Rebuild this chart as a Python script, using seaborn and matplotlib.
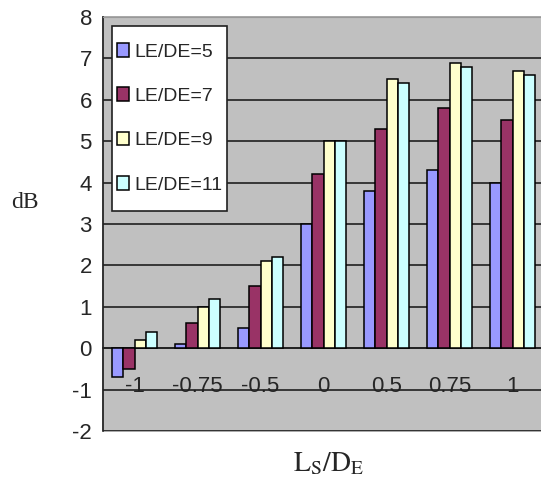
import matplotlib
matplotlib.use("Agg")
import matplotlib.pyplot as plt
import pandas as pd
import seaborn as sns
from matplotlib.patches import Rectangle

# data
ls_de = ["-1", "-0.75", "-0.5", "0", "0.5", "0.75", "1"]
series = ["LE/DE=5", "LE/DE=7", "LE/DE=9", "LE/DE=11"]
le_de_5 = [-0.7, 0.1, 0.5, 3.0, 3.8, 4.3, 4.0]
le_de_7 = [-0.5, 0.6, 1.5, 4.2, 5.3, 5.8, 5.5]
le_de_9 = [0.2, 1.0, 2.1, 5.0, 6.5, 6.9, 6.7]
le_de_11 = [0.4, 1.2, 2.2, 5.0, 6.4, 6.8, 6.6]
colors = ["#9999FF", "#993366", "#FFFFCC", "#CCFFFF"]

df = pd.concat([
    pd.DataFrame({"ls": ls_de, "db": vals, "series": name})
    for name, vals in zip(series, [le_de_5, le_de_7, le_de_9, le_de_11])
])

sns.set_style("white")
plt.rcParams["font.family"] = ["Liberation Sans", "DejaVu Sans"]
plt.rcParams["mathtext.fontset"] = "stix"
plt.rcParams["axes.unicode_minus"] = False

fig = plt.figure(figsize=(5.41, 4.8), dpi=100)
ax = fig.add_axes([103 / 541, 1 - 431 / 480, 441 / 541, 414 / 480])
ax.set_facecolor("#C0C0C0")

sns.barplot(df, x="ls", y="db", hue="series", order=ls_de, hue_order=series,
            palette=colors, saturation=1, width=0.73, edgecolor="black",
            linewidth=1.1, ax=ax, zorder=3)

ax.set_ylim(-2, 8)
ax.set_xlim(-0.5, 6.5)
ax.set_yticks(range(-2, 9))
ax.yaxis.grid(True, color="#202020", lw=1.2)
ax.set_axisbelow(True)

# x axis sits on the zero line, labels hang down near -1
ax.spines["bottom"].set_position(("data", 0))
ax.spines["bottom"].set_color("#202020")
ax.spines["bottom"].set_linewidth(1.2)
ax.spines["left"].set_color("#202020")
ax.spines["left"].set_linewidth(1.2)
ax.spines["top"].set_color("#999999")
ax.spines["right"].set_visible(False)
ax.add_patch(Rectangle((0, 0), 1, 1, transform=ax.transAxes, fill=False,
                       edgecolor="#999999", lw=1.2, zorder=0, clip_on=False))

ax.set_xticks(range(len(ls_de)))
ax.set_xticklabels(ls_de)
ax.set_xticks([i + 0.5 for i in range(len(ls_de))], minor=True)
ax.tick_params(axis="x", which="major", length=0, pad=20, labelsize=16)
ax.tick_params(axis="x", which="minor", length=5, width=1.2, direction="out",
               color="#202020")
ax.tick_params(axis="y", length=5, width=1.2, direction="out", color="#202020",
               labelsize=16, pad=3)
ax.set_xlabel("")
ax.set_ylabel("")

# legend box: white frame drawn separately so the inner margins match
ax.add_patch(Rectangle((112 / 541, 1 - 211 / 480), 115 / 541, 185 / 480,
                       transform=fig.transFigure, facecolor="white",
                       edgecolor="#202020", lw=1.2, zorder=4, clip_on=False))
ax.legend(loc="upper left", bbox_to_anchor=(117 / 541, 1 - 43 / 480),
          bbox_transform=fig.transFigure, fontsize=14, frameon=False,
          handlelength=0.6, handleheight=0.7, handletextpad=0.3,
          labelspacing=1.375, borderpad=0, borderaxespad=0)

fig.text(25 / 541, 1 - 203 / 480, "dB", family="Liberation Serif", fontsize=17,
         ha="center", va="center")
fig.text(329 / 541, 1 - 464 / 480, r"$\mathrm{L_S/D_E}$", fontsize=20,
         ha="center", va="center")

fig.savefig("out.png", dpi=100)
